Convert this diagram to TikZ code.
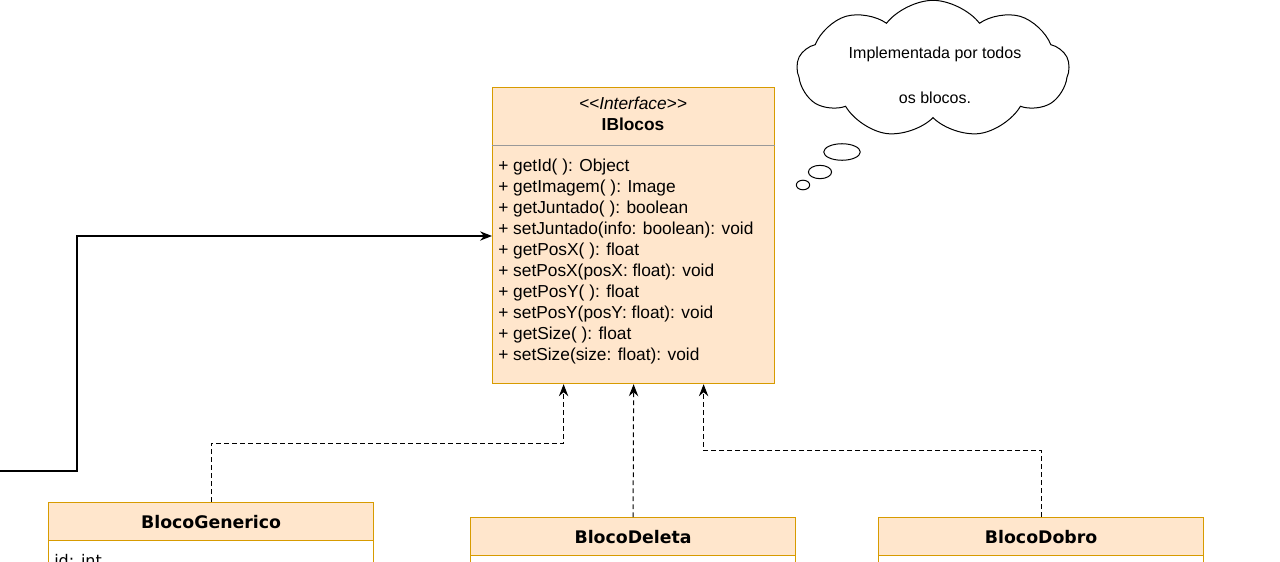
\documentclass[tikz,border=0pt]{standalone}
\usepackage{fontspec}
\setmainfont{Liberation Sans}
\newfontfamily\verdana{DejaVu Sans}
\usetikzlibrary{calc}
\usetikzlibrary{arrows.meta}
\usetikzlibrary{shapes.symbols}
\definecolor{boxfill}{HTML}{FFE6CC}
\definecolor{boxline}{HTML}{D79B00}

\begin{document}
\begin{tikzpicture}[x=0.75pt,y=-0.75pt,
 classbox/.style={draw=boxline, fill=boxfill, line width=0.9pt, inner sep=0, anchor=north west},
 bodybox/.style={draw=boxline, fill=white, line width=0.9pt, inner sep=0, anchor=north west},
 realiz/.style={dash pattern=on 3.5pt off 2.5pt, line width=0.75pt, -{Stealth[length=9pt,width=7pt,inset=3pt]}},
 assoc/.style={line width=0.9pt, -{Stealth[length=9pt,width=7pt,inset=3pt]}},
 member/.style={anchor=base west, inner sep=0, font=\fontsize{13}{15}\selectfont},
 title/.style={inner sep=0, font=\verdana\bfseries\fontsize{13}{15}\selectfont}]
\useasboundingbox (0,0) rectangle (1280,561);

% interface
\node[classbox, minimum width=211.5pt, minimum height=222pt] (iblocos) at (492,87) {};
\draw[gray!80, line width=0.75pt] (iblocos.west |- 0,145) -- (iblocos.east |- 0,145);
\node[inner sep=0, align=center, font=\fontsize{13}{15.75}\selectfont] (ihead) at (633,114)
 {\textit{\textless\kern0pt\textless Interface\textgreater\kern0pt\textgreater}\\\textbf{IBlocos}};
\foreach \m [count=\i from 0] in {{+ getId( ): Object}, {+ getImagem( ): Image}, {+ getJuntado( ): boolean},
 {+ setJuntado(info: boolean): void}, {+ getPosX( ): float}, {+ setPosX(posX: float): void},
 {+ getPosY( ): float}, {+ setPosY(posY: float): void}, {+ getSize( ): float}, {+ setSize(size: float): void}} {
 \node[member] (m\i) at (498,{171+21.1*\i}) {\m};
}

% classes
\foreach \x/\y/\n/\t in {48/502/gen/BlocoGenerico, 470/517/deleta/BlocoDeleta, 878/517/dobro/BlocoDobro} {
 \node[bodybox, minimum width=243.75pt, minimum height=50pt] (\n body) at (\x,{\y+38}) {};
 \node[classbox, minimum width=243.75pt, minimum height=28.5pt] (\n) at (\x,\y) {};
 \node[title] (\n title) at (\n.center) {\t};
}
\node[member, font=\verdana\fontsize{12}{14}\selectfont] (genid) at (54,566) {id: int};

% note
\node[cloud, draw, line width=0.75pt, cloud puffs=9, cloud puff arc=105, aspect=2,
 minimum width=204pt, minimum height=103pt, inner sep=0] (nota) at (933,69) {};
\node[inner sep=0, align=center, font=\fontsize{12}{33.75}\selectfont] (notatxt) at (935,75)
 {Implementada por todos\\os blocos.};
\draw[line width=0.75pt] (842,152) ellipse [x radius=13.7pt, y radius=6.2pt];
\draw[line width=0.75pt] (820,172) ellipse [x radius=8.7pt, y radius=5pt];
\draw[line width=0.75pt] (803,185) ellipse [x radius=5pt, y radius=3.6pt];

% connectors
\coordinate (orig) at (0,471);
\draw[assoc] (orig) -| (77,236) -- (iblocos.west |- 0,236);
\draw[realiz] (gen.north) -- ++(0,-59) -| ([xshift=-52.5pt]iblocos.south);
\draw[realiz] (deleta.north) -- (iblocos.south);
\draw[realiz] (dobro.north) -- ++(0,-67) -| ([xshift=52.5pt]iblocos.south);
\end{tikzpicture}
\end{document}
